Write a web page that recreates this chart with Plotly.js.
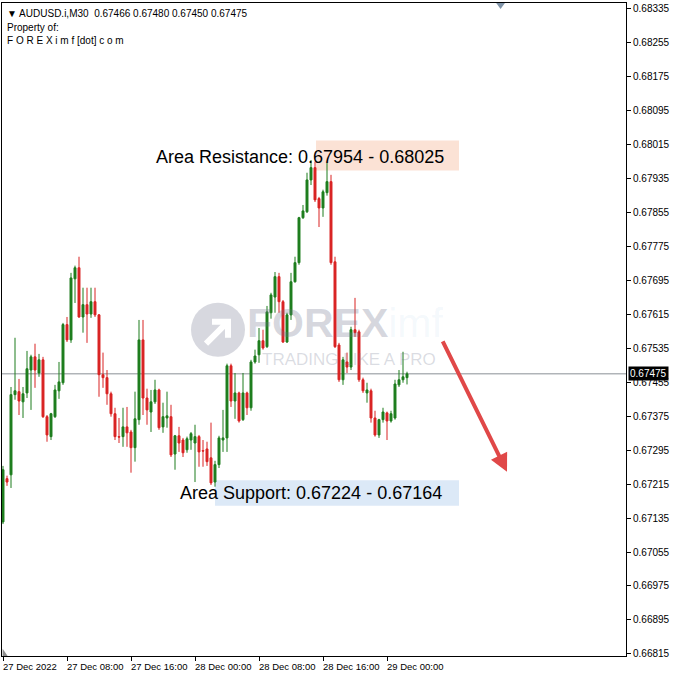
<!DOCTYPE html>
<html><head><meta charset="utf-8">
<script src="https://cdn.plot.ly/plotly-3.0.1.min.js"></script>
<style>html,body{margin:0;padding:0;background:#fff;} #chart{width:675px;height:676px;}</style>
</head><body><div id="chart"></div>
<script>
// ---- data ----
const symbolInfo = '▼ AUDUSD.i,M30  0.67466 0.67480 0.67450 0.67475';
const ownerLines = ['Property of:', 'F O R E X i m f [dot] c o m'];
const startUTC = Date.UTC(2022, 11, 27, 0, 0);
const barMinutes = 30;
const opens = [0.67126,0.67228,0.67237,0.67426,0.67433,0.67409,0.67430,0.67484,0.67515,0.67477,
0.67508,0.67374,0.67327,0.67374,0.67435,0.67454,0.67591,0.67555,0.67699,0.67725,
0.67609,0.67638,0.67616,0.67645,0.67614,0.67473,0.67466,0.67428,0.67381,0.67327,
0.67327,0.67350,0.67338,0.67301,0.67367,0.67555,0.67418,0.67385,0.67409,0.67437,
0.67350,0.67371,0.67374,0.67286,0.67329,0.67319,0.67296,0.67319,0.67312,0.67327,
0.67294,0.67298,0.67277,0.67220,0.67261,0.67319,0.67324,0.67494,0.67411,0.67430,
0.67367,0.67430,0.67395,0.67503,0.67520,0.67553,0.67539,0.67619,0.67656,0.67704,
0.67645,0.67550,0.67614,0.67692,0.67737,0.67843,0.67857,0.67932,0.67961,0.67888,
0.67866,0.67902,0.67928,0.67739,0.67543,0.67461,0.67503,0.67491,0.67579,0.67574,
0.67461,0.67430,0.67435,0.67371,0.67331,0.67367,0.67383,0.67364,0.67371,0.67449,
0.67461,0.67466];
const highs = [0.67258,0.67235,0.67444,0.67560,0.67463,0.67444,0.67529,0.67520,0.67546,0.67522,
0.67515,0.67378,0.67383,0.67449,0.67503,0.67595,0.67609,0.67713,0.67730,0.67751,
0.67678,0.67678,0.67678,0.67678,0.67616,0.67525,0.67484,0.67433,0.67395,0.67371,
0.67395,0.67397,0.67343,0.67433,0.67602,0.67602,0.67440,0.67437,0.67461,0.67440,
0.67407,0.67433,0.67402,0.67331,0.67350,0.67324,0.67327,0.67338,0.67355,0.67331,
0.67319,0.67315,0.67360,0.67270,0.67329,0.67390,0.67499,0.67499,0.67477,0.67433,
0.67477,0.67433,0.67508,0.67532,0.67583,0.67579,0.67635,0.67666,0.67715,0.67713,
0.67649,0.67619,0.67713,0.67751,0.67845,0.67873,0.67949,0.67979,0.67975,0.67892,
0.67909,0.67972,0.67944,0.67751,0.67548,0.67515,0.67525,0.67586,0.67654,0.67579,
0.67466,0.67454,0.67440,0.67388,0.67369,0.67395,0.67386,0.67388,0.67461,0.67484,
0.67527,0.67480];
const lows = [0.67121,0.67211,0.67206,0.67414,0.67378,0.67371,0.67418,0.67390,0.67442,0.67468,
0.67371,0.67315,0.67319,0.67371,0.67416,0.67449,0.67550,0.67548,0.67642,0.67607,
0.67572,0.67548,0.67607,0.67609,0.67421,0.67442,0.67402,0.67374,0.67319,0.67312,
0.67303,0.67303,0.67242,0.67268,0.67355,0.67378,0.67355,0.67338,0.67404,0.67343,
0.67336,0.67348,0.67279,0.67249,0.67291,0.67279,0.67289,0.67296,0.67220,0.67256,
0.67256,0.67258,0.67213,0.67209,0.67253,0.67291,0.67291,0.67397,0.67369,0.67360,
0.67364,0.67378,0.67388,0.67499,0.67501,0.67532,0.67536,0.67605,0.67619,0.67619,
0.67548,0.67548,0.67602,0.67690,0.67732,0.67840,0.67854,0.67920,0.67880,0.67821,
0.67845,0.67895,0.67732,0.67536,0.67456,0.67449,0.67477,0.67484,0.67562,0.67456,
0.67430,0.67407,0.67360,0.67327,0.67324,0.67360,0.67319,0.67360,0.67367,0.67444,
0.67454,0.67450];
const closes = [0.67249,0.67220,0.67426,0.67435,0.67411,0.67428,0.67487,0.67515,0.67484,0.67508,
0.67374,0.67331,0.67381,0.67437,0.67456,0.67591,0.67555,0.67701,0.67725,0.67609,
0.67638,0.67616,0.67645,0.67614,0.67473,0.67466,0.67428,0.67381,0.67327,0.67326,
0.67350,0.67336,0.67301,0.67369,0.67555,0.67418,0.67390,0.67409,0.67437,0.67348,
0.67374,0.67376,0.67284,0.67329,0.67312,0.67289,0.67322,0.67334,0.67327,0.67291,
0.67293,0.67268,0.67218,0.67261,0.67324,0.67324,0.67494,0.67411,0.67430,0.67364,
0.67430,0.67395,0.67503,0.67517,0.67553,0.67536,0.67621,0.67661,0.67704,0.67645,
0.67550,0.67614,0.67692,0.67737,0.67843,0.67859,0.67932,0.67961,0.67885,0.67866,
0.67904,0.67928,0.67737,0.67539,0.67461,0.67508,0.67491,0.67579,0.67572,0.67461,
0.67435,0.67437,0.67371,0.67331,0.67367,0.67385,0.67364,0.67381,0.67451,0.67461,
0.67468,0.67475];
const currentPrice = 0.67475;
const yTickStart = 0.66815, yTickStep = 0.0008, yTickCount = 20;
const xTickBars = [0, 16, 32, 48, 64, 80, 96];
const xTickLabels = ['27 Dec 2022','27 Dec 08:00','27 Dec 16:00','28 Dec 00:00','28 Dec 08:00','28 Dec 16:00','29 Dec 00:00'];
const resistanceZone = [0.67954, 0.68025];
const supportZone = [0.67164, 0.67224];
const resistanceLabel = 'Area Resistance: 0.67954 - 0.68025';
const supportLabel = 'Area Support: 0.67224 - 0.67164';

// ---- helpers ----
function t(i) {
  const d = new Date(startUTC + i * barMinutes * 60000);
  return d.toISOString().slice(0, 19).replace('T', ' ');
}
const times = opens.map((_, i) => t(i));
const yTicks = Array.from({length: yTickCount}, (_, k) => +(yTickStart + k * yTickStep).toFixed(5));

const trace = {
  type: 'candlestick', x: times, open: opens, high: highs, low: lows, close: closes,
  increasing: {line: {color: '#1d7d1d', width: 1}, fillcolor: '#1d7d1d'},
  decreasing: {line: {color: '#d92323', width: 1}, fillcolor: '#d92323'},
  whiskerwidth: 0, hoverinfo: 'skip', showlegend: false
};

const FONT = 'Liberation Sans, Arial, sans-serif';
const tickFont = {family: FONT, size: 10, color: '#000'};
const annotations = [];
annotations.push({xref:'paper', yref:'paper', x:0, y:1, xanchor:'left', yanchor:'top', xshift:3, yshift:-3,
  text: symbolInfo, showarrow:false, font:{family:FONT, size:10, color:'#000'}});
ownerLines.forEach((s, k) => annotations.push({xref:'paper', yref:'paper', x:0, y:1, xanchor:'left', yanchor:'top',
  xshift:3, yshift:-17 - 13*k, text: s, showarrow:false, font:{family:FONT, size:10, color:'#000'}}));
xTickBars.forEach((b, k) => annotations.push({xref:'x', yref:'paper', x: t(b), y:0, xanchor:'left', yanchor:'top',
  xshift:-2, yshift:-3, text: xTickLabels[k], showarrow:false, font:{family:FONT, size:9.5, color:'#000'}}));
// current price tag
annotations.push({xref:'paper', yref:'y', x:1, y:currentPrice, xanchor:'left', yanchor:'middle', xshift:2,
  text: currentPrice.toFixed(5), showarrow:false, bgcolor:'#000', borderpad:1,
  font:{family:FONT, size:10, color:'#fff'}});
// watermark
annotations.push({xref:'x', yref:'y', x: t(85.5), y: 0.67595, xanchor:'center', yanchor:'middle', showarrow:false,
  text: '<b>FOREX</b><span style="color:rgba(110,160,215,0.28)">imf</span>',
  font:{family:FONT, size:41, color:'rgba(110,115,140,0.28)'}});
annotations.push({xref:'x', yref:'y', x: t(86.5), y: 0.67508, xanchor:'center', yanchor:'middle', showarrow:false,
  text: 'TRADING LIKE A PRO',
  font:{family:FONT, size:17, color:'rgba(110,115,140,0.25)'}});
// zone labels
annotations.push({xref:'x', yref:'y', x: t(74.25), y: (resistanceZone[0]+resistanceZone[1])/2, yshift:-1, xanchor:'center', yanchor:'middle',
  text: resistanceLabel, showarrow:false, font:{family:FONT, size:18, color:'#000'}});
annotations.push({xref:'x', yref:'y', x: t(77), y: (supportZone[0]+supportZone[1])/2, yshift:0, xanchor:'center', yanchor:'middle',
  text: supportLabel, showarrow:false, font:{family:FONT, size:18, color:'#000'}});
// arrow
annotations.push({xref:'x', yref:'y', x: t(126), y: 0.67244, ax: -65, ay: -132, text:'', showarrow:true,
  arrowhead:2, arrowsize:0.9, arrowwidth:4, arrowcolor:'#e04848'});

const shapes = [
  {type:'rect', xref:'x', yref:'y', x0:t(78.25), x1:t(114), y0:resistanceZone[0], y1:resistanceZone[1],
   fillcolor:'#fbe2d5', line:{width:0}, layer:'below'},
  {type:'rect', xref:'x', yref:'y', x0:t(53), x1:t(114), y0:supportZone[0], y1:supportZone[1],
   fillcolor:'#dce9f7', line:{width:0}, layer:'below'},
  {type:'line', xref:'paper', yref:'y', x0:0, x1:1, y0:currentPrice, y1:currentPrice,
   line:{color:'#8a8f95', width:1}, layer:'below'},
  {type:'circle', xref:'x', yref:'y', xsizemode:'pixel', ysizemode:'pixel', xanchor:t(53.75), yanchor:0.67579,
   x0:-27, x1:27, y0:-27, y1:27, fillcolor:'rgba(110,115,140,0.28)', line:{width:0}, layer:'below'},
  {type:'path', xref:'x', yref:'y', xsizemode:'pixel', ysizemode:'pixel', xanchor:t(53.75), yanchor:0.67579,
   path:'M -12 -14 L 8 6 M -6 8 L 10 8 L 10 -8', line:{color:'#ffffff', width:6}, layer:'below'},
  {type:'path', xref:'paper', yref:'paper', path:'M 0.792 1 L 0.806 1 L 0.799 0.991 Z',
   fillcolor:'#7f93a8', line:{width:0}},
  {type:'path', xref:'paper', yref:'paper', path:'M 0.001 0 L 0.001 0.011 L 0.009 0 Z',
   fillcolor:'#909090', line:{width:0}}
];

const layout = {
  width: 675, height: 676,
  margin: {l: 2, r: 49, t: 3, b: 20},
  paper_bgcolor: '#fff', plot_bgcolor: '#fff',
  showlegend: false,
  xaxis: {type:'date', range:[t(-0.25), t(155.75)], rangeslider:{visible:false},
    showgrid:false, zeroline:false, showline:true, mirror:true, linecolor:'#000', linewidth:1,
    tickmode:'array', tickvals: xTickBars.map(t), ticktext: xTickBars.map(() => ''),
    ticks:'outside', ticklen:4, tickcolor:'#000', fixedrange:true},
  yaxis: {side:'right', range:[0.66810, 0.68349], showgrid:false, zeroline:false,
    showline:true, mirror:true, linecolor:'#000', linewidth:1,
    tickmode:'array', tickvals: yTicks, ticktext: yTicks.map(v => v.toFixed(5)),
    ticks:'outside', ticklen:4, tickcolor:'#000', tickfont: tickFont, fixedrange:true},
  annotations: annotations,
  shapes: shapes
};
Plotly.newPlot('chart', [trace], layout, {staticPlot: true, displayModeBar: false});
</script>
</body></html>
